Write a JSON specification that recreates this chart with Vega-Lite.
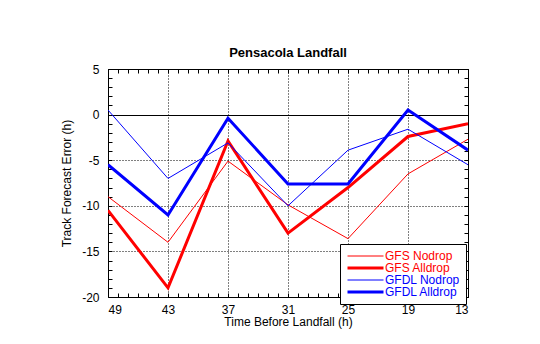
{
  "$schema": "https://vega.github.io/schema/vega-lite/v6.json",
  "width": 360,
  "height": 228,
  "autosize": "none",
  "padding": {"left": 108, "top": 69, "right": 72, "bottom": 47},
  "background": "white",
  "title": {"text": "Pensacola Landfall", "font": "Liberation Sans", "fontSize": 13, "fontWeight": "bold", "anchor": "middle", "offset": 3, "color": "black"},
  "config": {
    "view": {"stroke": "black", "strokeWidth": 1},
    "axis": {"labelFont": "Liberation Sans", "titleFont": "Liberation Sans", "labelColor": "black", "titleColor": "black", "labelFontSize": 12, "titleFontSize": 12, "titleFontWeight": "normal", "domain": false, "tickColor": "black", "tickSize": -4, "gridColor": "black", "gridWidth": 1}
  },
  "data": {"values": [
    {"t": 49, "err": -9.0, "series": "GFS Nodrop"},
    {"t": 43, "err": -14.0, "series": "GFS Nodrop"},
    {"t": 37, "err": -5.1, "series": "GFS Nodrop"},
    {"t": 31, "err": -9.9, "series": "GFS Nodrop"},
    {"t": 25, "err": -13.6, "series": "GFS Nodrop"},
    {"t": 19, "err": -6.5, "series": "GFS Nodrop"},
    {"t": 13, "err": -2.7, "series": "GFS Nodrop"},
    {"t": 49, "err": -10.5, "series": "GFS Alldrop"},
    {"t": 43, "err": -19.0, "series": "GFS Alldrop"},
    {"t": 37, "err": -2.9, "series": "GFS Alldrop"},
    {"t": 31, "err": -13.0, "series": "GFS Alldrop"},
    {"t": 25, "err": -8.0, "series": "GFS Alldrop"},
    {"t": 19, "err": -2.4, "series": "GFS Alldrop"},
    {"t": 13, "err": -1.0, "series": "GFS Alldrop"},
    {"t": 49, "err": 0.5, "series": "GFDL Nodrop"},
    {"t": 43, "err": -7.0, "series": "GFDL Nodrop"},
    {"t": 37, "err": -3.1, "series": "GFDL Nodrop"},
    {"t": 31, "err": -10.0, "series": "GFDL Nodrop"},
    {"t": 25, "err": -3.9, "series": "GFDL Nodrop"},
    {"t": 19, "err": -1.6, "series": "GFDL Nodrop"},
    {"t": 13, "err": -5.5, "series": "GFDL Nodrop"},
    {"t": 49, "err": -5.5, "series": "GFDL Alldrop"},
    {"t": 43, "err": -11.0, "series": "GFDL Alldrop"},
    {"t": 37, "err": -0.4, "series": "GFDL Alldrop"},
    {"t": 31, "err": -7.6, "series": "GFDL Alldrop"},
    {"t": 25, "err": -7.6, "series": "GFDL Alldrop"},
    {"t": 19, "err": 0.5, "series": "GFDL Alldrop"},
    {"t": 13, "err": -3.9, "series": "GFDL Alldrop"}
  ]},
  "layer": [
    {
      "mark": {"type": "line", "clip": true},
      "encoding": {
        "x": {"field": "t", "type": "quantitative", "scale": {"domain": [13, 49], "reverse": true, "nice": false, "zero": false},
          "axis": {"orient": "bottom", "title": "Time Before Landfall (h)", "values": [13,14,15,16,17,18,19,20,21,22,23,24,25,26,27,28,29,30,31,32,33,34,35,36,37,38,39,40,41,42,43,44,45,46,47,48,49],
            "labelExpr": "datum.value % 6 == 1 ? '' + datum.value : ''", "labelPadding": 11, "titlePadding": 1,
            "grid": true, "gridDash": [1, 2], "gridOpacity": {"condition": {"test": "datum.value % 6 == 1", "value": 1}, "value": 0}}},
        "y": {"field": "err", "type": "quantitative", "scale": {"domain": [-20, 5], "nice": false, "zero": false},
          "axis": {"orient": "left", "title": "Track Forecast Error (h)", "values": [-20,-19,-18,-17,-16,-15,-14,-13,-12,-11,-10,-9,-8,-7,-6,-5,-4,-3,-2,-1,0,1,2,3,4,5],
            "labelExpr": "datum.value % 5 == 0 ? '' + datum.value : ''", "labelPadding": 13, "titlePadding": 8,
            "grid": true, "gridDash": {"condition": {"test": "datum.value == 0", "value": []}, "value": [1, 2]},
            "gridOpacity": {"condition": {"test": "datum.value % 5 == 0", "value": 1}, "value": 0}}},
        "color": {"field": "series", "type": "nominal", "scale": {"domain": ["GFS Nodrop", "GFS Alldrop", "GFDL Nodrop", "GFDL Alldrop"], "range": ["#ff0000", "#ff0000", "#0000ff", "#0000ff"]},
          "legend": {"orient": "none", "legendX": 232, "legendY": 175, "title": null, "fillColor": "white", "strokeColor": "black", "padding": 6,
            "labelFont": "Liberation Sans", "labelFontSize": 12, "symbolType": "M-1,0H7", "symbolSize": 81, "rowPadding": 0, "labelOffset": 27,
            "encode": {"labels": {"update": {"fill": {"signal": "indexof(datum.label, 'GFS ') === 0 ? '#ff0000' : '#0000ff'"}}}}}},
        "strokeWidth": {"field": "series", "type": "nominal", "scale": {"type": "ordinal", "domain": ["GFS Nodrop", "GFS Alldrop", "GFDL Nodrop", "GFDL Alldrop"], "range": [1, 3, 1, 3]}, "legend": null}
      }
    },
    {
      "mark": {"type": "line", "opacity": 0},
      "encoding": {
        "x": {"field": "t", "type": "quantitative",
          "axis": {"orient": "top", "title": null, "labels": false, "grid": false, "values": [13,14,15,16,17,18,19,20,21,22,23,24,25,26,27,28,29,30,31,32,33,34,35,36,37,38,39,40,41,42,43,44,45,46,47,48,49]}},
        "y": {"field": "err", "type": "quantitative",
          "axis": {"orient": "right", "title": null, "labels": false, "grid": false, "values": [-20,-19,-18,-17,-16,-15,-14,-13,-12,-11,-10,-9,-8,-7,-6,-5,-4,-3,-2,-1,0,1,2,3,4,5]}},
        "detail": {"field": "series", "type": "nominal"}
      }
    }
  ],
  "resolve": {"axis": {"x": "independent", "y": "independent"}}
}
